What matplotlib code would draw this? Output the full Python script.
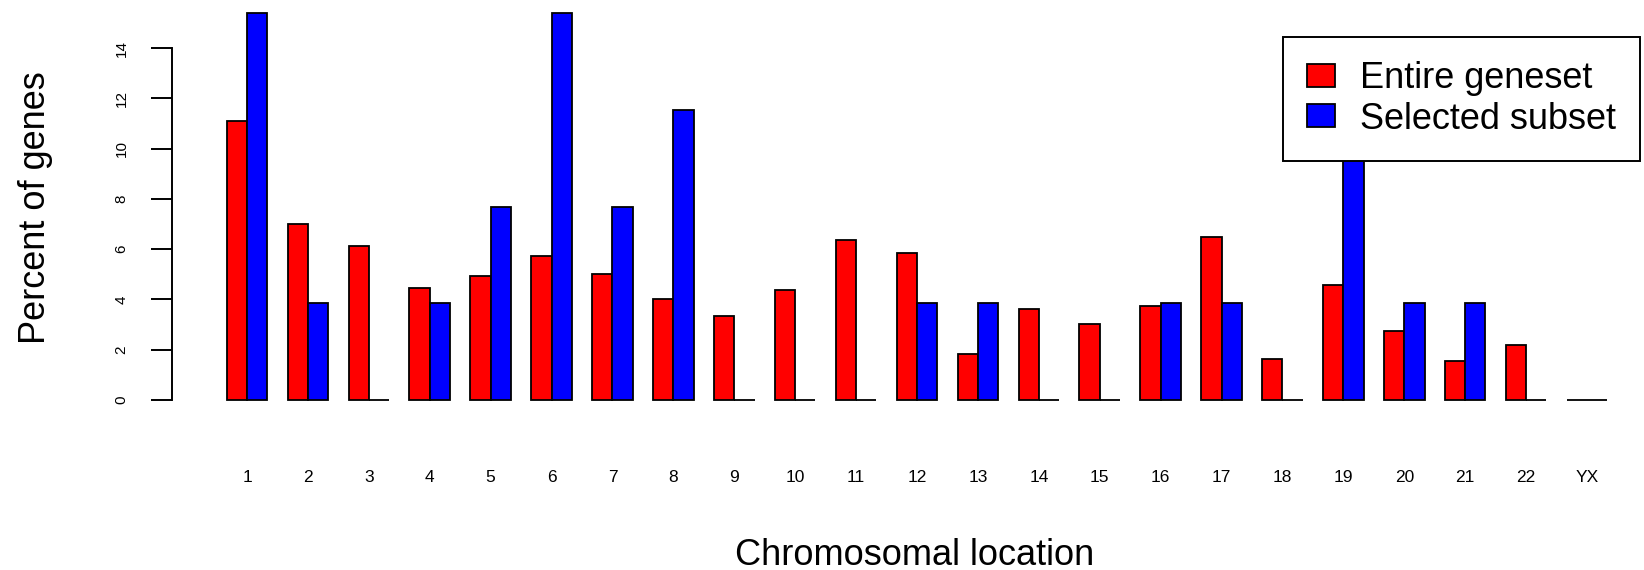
import numpy as np
import matplotlib
matplotlib.use("Agg")
import matplotlib.pyplot as plt

# data (percent of genes per chromosome)
chromosomes = ["1", "2", "3", "4", "5", "6", "7", "8", "9", "10", "11", "12",
               "13", "14", "15", "16", "17", "18", "19", "20", "21", "22", "YX"]
entire_geneset = [11.10, 7.01, 6.11, 4.45, 4.92, 5.75, 5.02, 4.01, 3.36, 4.39, 6.38, 5.85,
                  1.84, 3.64, 3.01, 3.74, 6.48, 1.65, 4.56, 2.74, 1.55, 2.18, 0.0]
selected_subset = [15.38, 3.85, 0.0, 3.85, 7.69, 15.38, 7.69, 11.54, 0.0, 0.0, 0.0, 3.85,
                   3.85, 0.0, 0.0, 3.85, 3.85, 0.0, 11.54, 3.85, 3.85, 0.0, 0.0]
series_names = ["Entire geneset", "Selected subset"]
series_colors = ["#ff0000", "#0000ff"]

plt.rcParams['font.family'] = ['Liberation Sans', 'DejaVu Sans']

W, H = 1644, 570
fig = plt.figure(figsize=(W / 100, H / 100), dpi=100)
# plot region in pixels (R style barplot, region runs past right/top edges)
left, right, top, bottom = 171.5, 1662.5, -2.0, 415.5
ax = fig.add_axes([left / W, (H - bottom) / H, (right - left) / W, (bottom - top) / H])

# R barplot(beside=TRUE): bars of width 1, one bar gap between groups
n = len(chromosomes)
centers = 3 * np.arange(n) + 2
ax.bar(centers - 0.5, entire_geneset, width=1, color=series_colors[0],
       edgecolor="black", linewidth=1.3, label=series_names[0])
ax.bar(centers + 0.5, selected_subset, width=1, color=series_colors[1],
       edgecolor="black", linewidth=1.3, label=series_names[1])

lo, hi = centers[0] - 1, centers[-1] + 1
ax.set_xlim(lo - 0.04 * (hi - lo), hi + 0.04 * (hi - lo))
ymax = max(max(entire_geneset), max(selected_subset))
ax.set_ylim(-0.04 * ymax, ymax * 1.04)

for s in ["top", "right", "bottom"]:
    ax.spines[s].set_visible(False)
ax.spines["left"].set_linewidth(1.4)
ax.spines["left"].set_bounds(0, 14)

ax.set_yticks(np.arange(0, 15, 2))
ax.tick_params(axis="y", length=15, width=1.4, pad=16, labelsize=11)
for lab in ax.get_yticklabels():
    lab.set_rotation(90)
    lab.set_va("center")

ax.set_xticks(centers)
ax.set_xticklabels(chromosomes)
ax.tick_params(axis="x", length=0, pad=39, labelsize=12.5)

fig.text(915 / W, (H - 565) / H, "Chromosomal location", fontsize=26,
         ha="center", va="baseline")
fig.text(45 / W, (H - 207.5) / H, "Percent of genes", fontsize=26, rotation=90,
         rotation_mode="anchor", ha="center", va="baseline")

leg = ax.legend(loc="upper right", bbox_to_anchor=(1640 / W, (H - 37) / H),
                bbox_transform=fig.transFigure, fontsize=26, fancybox=False,
                framealpha=1, edgecolor="black", borderpad=0.67, labelspacing=0.15,
                handlelength=0.75, handleheight=0.6, handletextpad=0.7,
                borderaxespad=0)
leg.get_frame().set_linewidth(1.4)

fig.savefig("out.png", dpi=100)
